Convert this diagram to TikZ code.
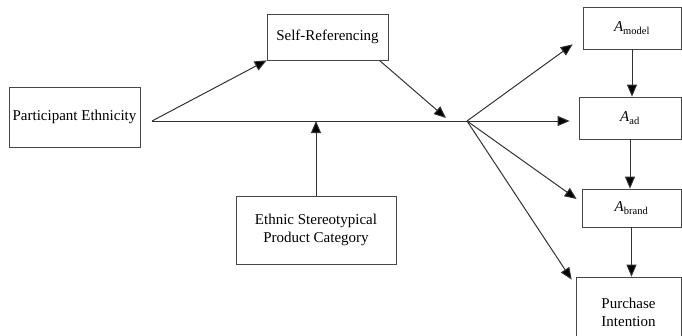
\documentclass[tikz,border=0pt]{standalone}
\usepackage{fontspec}
\setmainfont{Liberation Serif}
\usepackage{tikz}
\usetikzlibrary{arrows.meta,calc}
\definecolor{line_gray}{RGB}{50,50,50}
\definecolor{box_gray}{RGB}{70,70,70}

\begin{document}
\begin{tikzpicture}[->,line width=1pt,>={Triangle[length=12pt,width=10pt]},x=1pt,y=-1pt,
    font=\fontsize{15}{18}\selectfont]
    \tikzstyle{box}=[draw=box_gray, rectangle, line width=0.7pt, inner sep=0pt, align=center, fill=none, text=black]
    \tikzstyle{link}=[draw=line_gray]
    \useasboundingbox (0,0) rectangle (682,335);

    \node[box, minimum width=131pt, minimum height=60pt] (pe)   at (74.5,117)  {Participant Ethnicity};
    \node[box, minimum width=121pt, minimum height=46pt] (sr)   at (327.5,37)  {Self-Referencing};
    \node[box, minimum width=160pt, minimum height=68pt] (esp)  at (316,230)   {Ethnic Stereotypical\\Product Category};
    \node[box, minimum width=98pt,  minimum height=42pt] (am)   at (632,28)    {\textit{A}\textsubscript{model}};
    \node[box, minimum width=102pt, minimum height=42pt] (aad)  at (630,118)   {\textit{A}\textsubscript{ad}};
    \node[box, minimum width=99pt,  minimum height=38pt] (abr)  at (631.5,208) {\textit{A}\textsubscript{brand}};
    \node[box, minimum width=105pt, minimum height=70pt] (pint) at (628.5,312) {Purchase\\Intention};

    \coordinate (s) at (152,121);
    \coordinate (j) at (467,121);
    \coordinate (m) at (446,118);

    \path[link,-]
     (s) edge[->] (sr.south west)
     ($(sr.south east)+(-9,0)$) edge[->] (m)
     (esp.north) edge[->] (esp.north |- s)
     (j) edge[->,shorten >=9pt] (j -| aad.west)
     (j) edge[->] ($(am.south west)+(-10,-5)$)
     (j) edge[->] ($(abr.west)+(-5,-9)$)
     (j) edge[->] ($(pint.north west)+(-4,3)$)
     (am.south) edge[->] (am.south |- aad.north)
     (aad.south) edge[->] (aad.south |- abr.north)
     (abr.south) edge[->] (abr.south |- pint.north)
     ;
    \draw[link,-] (s) -- (j);
\end{tikzpicture}
\end{document}
